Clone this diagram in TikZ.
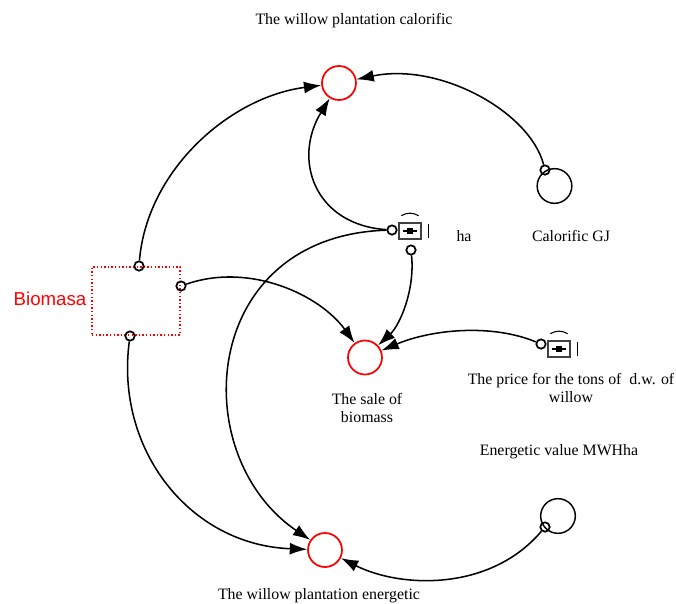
\documentclass[tikz,border=0pt]{standalone}
\usepackage{fontspec}
\setmainfont{Liberation Serif}
\newfontfamily\labelsans{Liberation Sans}
\usetikzlibrary{arrows.meta}
\definecolor{stockred}{RGB}{255,0,0}
\tikzset{
  x=0.75pt,y=-0.75pt,
  aux/.style={circle,draw=stockred,line width=1.3pt,minimum size=25.5pt,inner sep=0pt},
  const/.style={circle,draw=black,line width=1.1pt,minimum size=26pt,inner sep=0pt},
  port/.style={circle,draw=black,line width=1.3pt,minimum size=7pt,inner sep=0pt},
  link/.style={draw=black,line width=1.15pt,-{Latex[length=13pt,width=9pt]}},
  txt/.style={font=\fontsize{11.9}{14.2}\selectfont,align=center,text=black,inner sep=0pt},
  stockbox/.style={draw=stockred,line width=1.1pt,dash pattern=on 1.1pt off 1.6pt,minimum width=66pt,minimum height=51pt,inner sep=0pt},
  ghost/.style={draw=black!75,line width=2pt,minimum width=16.5pt,minimum height=12pt,inner sep=0pt},
  ghostmark/.style={draw=black,line width=0.9pt},
  ghostarc/.style={draw=black,line width=0.8pt}
}
\newcommand{\ghosticon}[2]{%
  \node[ghost] (#1) at (#2) {};
  \draw[ghostmark] ([xshift=-5.5pt]#1.center) -- ([xshift=5.5pt]#1.center);
  \fill[black] ([xshift=-2.4pt,yshift=-2.4pt]#1.center) rectangle ([xshift=2.4pt,yshift=2.4pt]#1.center);
  \draw[ghostarc] ([xshift=-6.5pt,yshift=11.5pt]#1.center) .. controls ([xshift=-2pt,yshift=14pt]#1.center) and ([xshift=2pt,yshift=14pt]#1.center) .. ([xshift=6.5pt,yshift=11.5pt]#1.center);
  \draw[ghostarc] ([xshift=14pt,yshift=5pt]#1.center) -- ([xshift=14pt,yshift=-5pt]#1.center);
}
\begin{document}
\begin{tikzpicture}
\useasboundingbox (0,0) rectangle (676,604);
% stock
\node[stockbox] (stock) at (136,301) {};
% auxiliaries
\node[aux] (calor) at (339,83) {};
\node[aux] (sale) at (365,357.5) {};
\node[aux] (energ) at (325,550) {};
% constants
\node[const] (calgj) at (554.5,186) {};
\node[const] (mwh) at (558,516) {};
% ghost icons
\ghosticon{ha}{410,231}
\ghosticon{price}{559,349}
% ports
\node[port] (pa) at (139,266) {};
\node[port] (pb) at (181,286) {};
\node[port] (pc) at (130,336) {};
\node[port] (pd) at (392,230) {};
\node[port] (pe) at (411,250) {};
\node[port] (pf) at (541,344) {};
\node[port] (pg) at (545,170) {};
\node[port] (ph) at (545,527) {};
% connectors
\draw[link] (pa) .. controls (147,170) and (230,97) .. (calor);
\draw[link] (pd) .. controls (315,225) and (292,160) .. (calor);
\draw[link] (pg) .. controls (530,112) and (440,62) .. (calor);
\draw[link] (pd) .. controls (200,236) and (185,455) .. (energ);
\draw[link] (pb) .. controls (250,262) and (320,295) .. (sale);
\draw[link] (pe) .. controls (415,290) and (400,325) .. (sale);
\draw[link] (pf) .. controls (490,323) and (430,330) .. (sale);
\draw[link] (pc) .. controls (115,450) and (190,545) .. (energ);
\draw[link] (ph) .. controls (490,592) and (400,588) .. (energ);
% labels
\node[txt] (t1) at (354,20.5) {The willow plantation calorific};
\node[txt] (t2) at (464,236) {ha};
\node[txt] (t3) at (571,236) {Calorific GJ};
\node[txt] (t4) at (571,388) {The price for the tons of\ \ d.w. of\\willow};
\node[txt] (t5) at (367,408) {The sale of\\biomass};
\node[txt] (t6) at (559,452) {Energetic value MWHha};
\node[txt] (t7) at (319,596) {The willow plantation energetic};
\node[font=\labelsans\fontsize{14}{16}\selectfont,text=stockred,inner sep=0pt] (t8) at (50,299) {Biomasa};
\end{tikzpicture}
\end{document}
